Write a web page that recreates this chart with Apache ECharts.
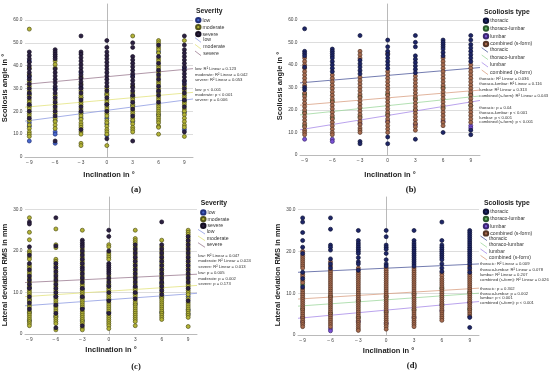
<!DOCTYPE html>
<html><head><meta charset="utf-8">
<script src="https://cdn.jsdelivr.net/npm/echarts@6/dist/echarts.min.js"></script>
<style>html,body{margin:0;padding:0;background:#fff}#c{width:550px;height:374px}</style>
</head><body><div id="c"></div>
<script>
// ---------------- data ----------------
const inclinations = [-9, -6, -3, 0, 3, 6, 9];
const xTickLabels = [-9, -6, -3, 0, 3, 6, 9];
const fitX = [-9.5, 10];

// (a) scoliosis angle by severity — values per inclination column
const angleLow = [
  [42, 35, 27.5, 22.5, 15, 13.5, 7],
  [30, 16, 11, 10, 6],
  [37, 30.5, 26, 19.5, 17],
  [27.5, 23, 17, 14.5, 9.5],
  [35.5, 26.5, 22.5, 15.5],
  [46, 28.5, 18.5],
  [39, 33, 24.5, 19.5, 12]
];
const angleModerate = [
  [56, 39, 36, 33, 31, 29, 27, 25, 24, 22, 21, 19, 18, 16, 14, 12.5, 11, 10, 9],
  [42, 40.5, 39, 27, 25, 23, 21, 19, 17, 15.5, 14, 12.5],
  [35, 32, 29, 27, 26, 24, 23, 21, 19, 18, 16.5, 15, 14, 13, 11, 10, 6, 5],
  [30, 28, 27, 25, 24, 22, 21, 19, 18, 16, 15, 13.5, 12, 11, 10, 5],
  [53, 31, 28, 26, 25, 23, 22, 20, 19, 17, 16, 14.5, 13, 12, 11],
  [51, 50, 48, 47, 45.5, 43, 42, 40, 39, 37, 35, 33, 32, 30, 28, 26, 25, 23, 22, 21, 20, 19, 18, 17, 16, 15, 13.5, 13, 10],
  [51, 31, 29, 27, 26, 24, 23, 21, 20, 18.5, 17, 15.5, 14, 13, 9]
];
const angleSevere = [
  [46, 44.5, 43, 41.5, 40, 38.5, 37, 35.5, 34, 32, 30, 28, 26, 23, 20, 17],
  [47, 46, 45, 44, 43, 38.5, 37, 35.5, 34, 32.5, 31, 29.5, 28, 26, 24, 22, 20, 18, 7],
  [53, 46, 45, 43.5, 42, 40.5, 39, 37.5, 36, 34.5, 33, 31.5, 30, 28, 25, 22, 20, 12],
  [51, 48, 46, 44.5, 43, 41.5, 40, 38.5, 37, 35.5, 34, 32.5, 31, 29, 26, 23, 20, 8],
  [50, 48, 44, 42.5, 41, 39.5, 38, 36.5, 35, 33.5, 32, 30.5, 29, 27, 24, 21, 18, 7],
  [49, 44, 41, 38, 36, 34, 31, 29, 27, 24],
  [53, 49, 47, 45.5, 44, 42.5, 41, 39.5, 38, 36.5, 35, 33.5, 32, 30, 28, 25, 22, 11]
];

// (b) scoliosis angle by scoliosis type
const angleThoracic = [
  [56, 46, 45, 44, 39, 30, 29],
  [47, 46, 45, 44, 43, 41.5, 40, 38.5, 37],
  [53, 42, 40.5, 39, 37.5, 36, 6, 5],
  [51, 48, 46, 44.5, 43, 41.5, 40, 38.5, 8, 5],
  [53, 50, 48, 44, 42.5, 41, 39.5, 38, 36.5, 7],
  [51, 50, 49, 48, 47, 45.5, 44, 10],
  [53, 51, 49, 47.5, 46, 44.5, 43, 41.5, 11, 9]
];
const angleThoracoLumbar = [[27, 19, 13], [24, 16.5], [26, 17], [27, 18], [25, 20], [30, 21], [27, 22]];
const angleLumbar = [[7], [7, 6], [14], [15], [13.5], [15], [13, 12]];
const angleCombined = [
  [43, 41.5, 40, 38.5, 37, 35.5, 34, 32.5, 31, 27.5, 26, 24.5, 23, 21.5, 20, 18.5, 17, 15.5, 14, 12.5, 11, 10, 9],
  [35.5, 34, 32.5, 31, 29.5, 28, 26.5, 25, 23.5, 22, 20.5, 19, 17.5, 16, 14.5, 13, 11.5, 10, 9],
  [46, 44.5, 43, 34.5, 33, 31.5, 30, 28.5, 27, 25.5, 24, 22.5, 21, 19.5, 18, 16.5, 15, 13.5, 12, 11, 10],
  [45, 37, 35.5, 34, 32.5, 31, 29.5, 28, 26.5, 25, 23.5, 22, 20.5, 19, 17.5, 16, 14.5, 13, 11.5, 10],
  [35, 33.5, 32, 30.5, 29, 27.5, 26, 24.5, 23, 21.5, 20, 18.5, 17, 15.5, 14, 12.5, 11],
  [43, 41.5, 40, 38.5, 37, 35.5, 34, 32.5, 31, 29.5, 28, 26.5, 25, 23.5, 22, 20.5, 19, 17.5, 16, 14.5, 13],
  [40, 38.5, 37, 35.5, 34, 32.5, 31, 29.5, 28, 26.5, 25, 23.5, 22, 20.5, 19, 17.5, 16, 14.5]
];

// (c) lateral deviation RMS by severity
const latLow = [
  [11.2, 8.2, 5.2, 3.2], [9, 6.8, 4.2], [10.8, 8.8, 6.2, 3.2], [11.8, 8.2, 5.2],
  [11.2, 9.8, 7.2], [12.2, 8.8, 5.2], [9, 5.8, 4.8]
];
const latModerate = [
  [28, 24.5, 22.7, 20, 19.5, 18.5, 18, 16.5, 16, 15, 14.5, 13.5, 12.5, 11.5, 10.5, 10, 9.5, 8.5, 8, 7, 6.5, 5.5, 5, 4.5, 4, 3.5, 3, 2.5, 2],
  [25.3, 21.5, 20.8, 18, 17.5, 16.5, 15.5, 14.5, 13.5, 12.5, 11.5, 10.5, 9.5, 8.5, 8, 7.5, 6.5, 6, 5.5, 4.5, 4, 3.5, 3, 2.5, 1],
  [25, 20.5, 19.5, 18.5, 17.5, 16.5, 15, 14, 13, 12, 11.5, 10.5, 10, 9.5, 8.5, 8, 7.5, 7, 6.5, 5.5, 5, 4.5, 4, 3.5, 3, 2.5, 1.5, 1],
  [21.5, 21, 19.5, 19, 18.5, 18, 14, 13, 12, 11, 10.5, 9.5, 9, 8.5, 7.5, 7, 6.5, 6, 5.5, 4.5, 4, 3.5, 3, 2.5, 2, 1.3],
  [25, 23, 22.5, 22, 21, 20, 19, 18, 17, 16, 15, 14, 13, 12, 11, 10.5, 9.5, 9, 8, 7.5, 7, 6.5, 6, 5.5, 5, 4.5, 4, 3.5, 3, 2],
  [22.6, 21, 20, 19, 18, 17, 16, 15, 14, 13, 12, 11, 10, 9, 8.5, 8, 7.5, 7, 6.5, 6, 5.5, 5, 4.5, 4, 3.5],
  [25, 24.5, 24, 23, 22, 21, 20, 19, 18, 17, 16, 15, 14, 13, 12, 11.5, 10.5, 10, 9.5, 8.5, 7.5, 7, 6.5, 6, 5.5, 5, 4.5, 4, 1.8]
];
const latSevere = [
  [27, 26.5, 21, 19, 17, 15.5, 14, 13, 12, 11, 9, 7.5, 6],
  [28, 21.2, 17, 16, 15, 14, 13, 12, 11, 10, 9, 7, 5, 1.5],
  [22.6, 22, 21.5, 21, 20, 19, 18, 17, 16, 15.5, 14.5, 13.5, 12.5, 11, 9, 6, 2],
  [25, 23.5, 20, 17, 16.5, 16, 15.5, 15, 14.5, 13.5, 12.5, 11.5, 10, 8, 5],
  [21.5, 20.5, 19.5, 18.5, 17.5, 16.5, 15.5, 14.5, 13.5, 12.5, 11.5, 10, 8.5],
  [27, 21.5, 20.5, 19.5, 18.5, 17.5, 16.5, 15.5, 14.5, 13.5, 12.5, 11.5, 10.5, 9.5],
  [23.5, 22.5, 21.5, 20.5, 19.5, 18.5, 17.5, 16.5, 15.5, 14.5, 13.5, 12.5, 11, 8]
];

// (d) lateral deviation RMS by scoliosis type
const latThoracic = [
  [28, 27, 24.5, 22.6, 21, 19.5, 15, 13.5, 11.5],
  [28, 25.3, 21.5, 21, 20.3, 18.2, 17, 16],
  [25, 22.6, 22, 21.5, 21, 20.5, 20, 19.5, 18.5, 17.5, 17, 15.5],
  [25, 23.5, 21.5, 21, 20.5, 19.5, 18, 17, 16.5],
  [25, 22.6, 22, 21.5, 21, 20.5, 20, 19.5, 19, 18.5, 18, 17.5, 17, 16.5],
  [27, 22.6, 21.5, 21, 20.5, 20, 19.5, 19, 18.5, 18, 17, 16, 15.2],
  [25, 24.5, 24, 23.5, 23, 22.5, 22, 21.5, 21, 20.5, 20, 19.5, 19, 18.5, 18, 17.5, 17, 16, 15, 4.2, 1.8]
];
const latThoracoLumbar = [[12, 6.2], [9.2, 5.2], [8.2, 4.2], [9.2, 5.5], [9.8, 6], [11.2, 7.2], [10.2, 6.2]];
const latLumbar = [[4.2, 3.1], [1.5, 1], [3.2], [2.8], [4.2], [5.8], [7.8]];
const latCombined = [
  [20, 19, 18.5, 18, 17.5, 17, 16.5, 16, 14.5, 14, 13, 12.5, 11, 10.5, 10, 9.5, 9, 8.5, 8, 7.5, 7, 6.5, 6, 5.5, 5, 4.5, 4, 3.5, 3, 2.5, 2],
  [17.5, 16.5, 15.5, 15, 14.5, 14, 13.5, 13, 12.5, 12, 11.5, 11, 10.5, 10, 9.5, 9, 8.5, 8, 7.5, 7, 6.5, 6, 5.5, 5, 4.5, 4, 3.5, 3, 2.5, 2],
  [16, 15, 14.5, 14, 13.5, 13, 12.5, 12, 11.5, 11, 10.5, 10, 9.5, 9, 8.5, 8, 7.5, 7, 6.5, 6, 5.5, 5, 4.5, 4, 3.5, 3, 2.5, 2, 1.5, 1.1],
  [16, 15.5, 15, 14.5, 14, 13.5, 13, 12.5, 12, 11.5, 11, 10.5, 10, 9.5, 9, 8.5, 8, 7.5, 7, 6.5, 6, 5.5, 5, 4.5, 4, 3.5, 3, 2.5, 2, 1.4],
  [16, 15.5, 15, 14.5, 14, 13.5, 13, 12.5, 12, 11.5, 11, 10.5, 10, 9.5, 9, 8.5, 8, 7.5, 7, 6.5, 6, 5.5, 5, 4.5, 4, 3.5, 3, 2.5, 2],
  [14.8, 14.2, 13.5, 13, 12.5, 12, 11.5, 11, 10.5, 10, 9.5, 9, 8.5, 8, 7.5, 7, 6.5, 6, 5.5, 5, 4.5, 4, 3.5],
  [16.5, 15.5, 14.5, 14, 13.5, 13, 12.5, 12, 11.5, 11, 10.5, 10, 9.5, 9, 8.5, 8, 7.5, 7, 6.5, 6, 5.5, 5, 4.5]
];

// regression line values at the left and right end of the x axis
const fitAngleSeverity = [[15.7, 25.4], [21.8, 28.3], [31.8, 38.7]];          // low, moderate, severe
const fitAngleType = [[32.0, 38.8], [17.8, 26.2], [11.2, 24.2], [22.1, 28.8]]; // thoracic, thoraco-lumbar, lumbar, combined
const fitLatSeverity = [[6.8, 9.8], [9.0, 11.7], [12.4, 14.4]];
const fitLatType = [[15.0, 17.0], [6.9, 10.0], [4.0, 8.0], [8.6, 11.2]];

const severityNames = ['low', 'moderate', 'severe'];
const typeNames = ['thoracic', 'thoraco-lumbar', 'lumbar', 'combined (s-form)'];
const statsA = ['low: R\u00b2 Linear = 0.123', 'moderate: R\u00b2 Linear = 0.042', 'severe: R\u00b2 Linear = 0.053',
  'low: p < 0.001', 'moderate: p < 0.001', 'severe: p = 0.006'];
const statsB = ['thoracic: R\u00b2 Linear = 0.036', 'thoraco-lumbar: R\u00b2 Linear = 0.116', 'lumbar: R\u00b2 Linear = 0.313', 'combined (s-form): R\u00b2 Linear = 0.043',
  'thoracic: p = 0.04', 'thoraco-lumbar: p < 0.001', 'lumbar: p < 0.001', 'combined (s-form): p < 0.001'];
const statsC = ['low: R\u00b2 Linear = 0.047', 'moderate: R\u00b2 Linear = 0.024', 'severe: R\u00b2 Linear = 0.013',
  'low: p = 0.005', 'moderate: p = 0.002', 'severe: p = 0.173'];
const statsD = ['thoracic: R\u00b2 Linear = 0.009', 'thoraco-lumbar: R\u00b2 Linear = 0.078', 'lumbar: R\u00b2 Linear = 0.207', 'combined (s-form): R\u00b2 Linear = 0.026',
  'thoracic: p = 0.302', 'thoraco-lumbar: p = 0.002', 'lumbar: p < 0.001', 'combined (s-form): p < 0.001'];

// ---------------- styling ----------------
const FONT = '"Liberation Sans", Arial, sans-serif';
const sevFill = { low: ['#4767cc', '#22307a'], moderate: ['#b3b336', '#55551a'], severe: ['#2c2142', '#150f22'] };
const sevLine = { low: '#8e9ce2', moderate: '#e3e37f', severe: '#9c7c92' };
const typeFill = { 'thoracic': ['#1e2668', '#0e1236'], 'thoraco-lumbar': ['#62b562', '#2e5a2e'], 'lumbar': ['#7a50d6', '#3c2870'], 'combined (s-form)': ['#a66a4e', '#553526'] };
const typeLine = { 'thoracic': '#4f5b9c', 'thoraco-lumbar': '#9fd89f', 'lumbar': '#a88ce8', 'combined (s-form)': '#d9a184' };

function pts(cols) {
  const out = [];
  cols.forEach((vals, i) => vals.forEach(v => out.push([inclinations[i], v])));
  return out;
}
function scatter(name, cols, idx, fill) {
  return { name, type: 'scatter', xAxisIndex: idx, yAxisIndex: idx, data: pts(cols), symbolSize: 4, z: 3,
    itemStyle: { color: fill[0], borderColor: fill[1], borderWidth: 0.7, opacity: 1 }, silent: true };
}
function fit(name, ends, idx, color) {
  return { name: name + ' fit', type: 'line', xAxisIndex: idx, yAxisIndex: idx, symbol: 'none', z: 2, silent: true,
    data: [[fitX[0], ends[0]], [fitX[1], ends[1]]], lineStyle: { color, width: 0.8 } };
}

const grids = [
  { left: 25, top: 4, width: 168, height: 153 },
  { left: 300, top: 4, width: 180, height: 151 },
  { left: 25, top: 197, width: 172, height: 137 },
  { left: 298, top: 197, width: 181, height: 138 }
];
const yMax = [67, 67, 33, 33];
const yTop = [60, 60, 30, 30];
const yNames = ['Scoliosis angle in \u00b0', 'Scoliosis angle in \u00b0', 'Lateral deviation RMS in mm', 'Lateral deviation RMS in mm'];
const yNameGap = [13.5, 14.5, 12, 14.3];
const yNameShift = [15, 13, 19, 18];
const xNameGap = [13.5, 15.5, 11.5, 11.5];

const xAxes = grids.map((g, i) => ({
  gridIndex: i, type: 'value', min: fitX[0], max: fitX[1], interval: 0.5,
  axisLine: { show: true, onZero: false, lineStyle: { color: '#a8a8a8', width: 0.8 } },
  axisTick: { show: false }, splitLine: { show: false },
  axisLabel: { interval: 0, margin: 3.5, fontSize: 4.8, color: '#444', fontFamily: FONT,
    formatter: v => { const r = Math.round(v); if (Math.abs(v - r) > 1e-6 || xTickLabels.indexOf(r) < 0) return ''; return r < 0 ? '\u2013 ' + (-r) : String(r); } },
  name: 'Inclination in \u00b0', nameLocation: 'middle', nameGap: xNameGap[i],
  nameTextStyle: { fontSize: 7.5, fontWeight: 'bold', color: '#222', fontFamily: FONT }
}));
const yAxes = grids.map((g, i) => ({
  gridIndex: i, type: 'value', min: 0, max: yMax[i], interval: 10,
  axisLine: { show: true, lineStyle: { color: '#a8a8a8', width: 0.8 } },
  axisTick: { show: false },
  splitLine: { show: true, showMaxLine: false, showMinLine: false, lineStyle: { color: '#d4d4d4', width: 0.8 } },
  axisLabel: { margin: 2.5, fontSize: 4.8, color: '#444', fontFamily: FONT, showMaxLabel: false,
    formatter: v => v === 0 ? '0' : (v % 10 === 0 && v <= yTop[i] ? v.toFixed(1) : '') },
  name: yNames[i], nameLocation: 'middle', nameGap: yNameGap[i],
  nameTextStyle: { fontSize: 7.5, fontWeight: 'bold', color: '#222', fontFamily: FONT, padding: [0, yNameShift[i], 0, 0] }
}));

const series = [];
// (a)
[angleLow, angleModerate, angleSevere].forEach((c, k) => series.push(scatter(severityNames[k], c, 0, sevFill[severityNames[k]])));
fitAngleSeverity.forEach((e, k) => series.push(fit(severityNames[k], e, 0, sevLine[severityNames[k]])));
// (b)
[[1, angleThoracoLumbar], [2, angleLumbar], [3, angleCombined], [0, angleThoracic]].forEach(([k, c]) =>
  series.push(scatter(typeNames[k], c, 1, typeFill[typeNames[k]])));
fitAngleType.forEach((e, k) => series.push(fit(typeNames[k], e, 1, typeLine[typeNames[k]])));
// (c)
[latLow, latModerate, latSevere].forEach((c, k) => series.push(scatter(severityNames[k], c, 2, sevFill[severityNames[k]])));
fitLatSeverity.forEach((e, k) => series.push(fit(severityNames[k], e, 2, sevLine[severityNames[k]])));
// (d)
[[1, latThoracoLumbar], [2, latLumbar], [3, latCombined], [0, latThoracic]].forEach(([k, c]) =>
  series.push(scatter(typeNames[k], c, 3, typeFill[typeNames[k]])));
fitLatType.forEach((e, k) => series.push(fit(typeNames[k], e, 3, typeLine[typeNames[k]])));

function legend(left, top, gap, names) {
  return { left, top, orient: 'vertical', itemWidth: 4.4, itemHeight: 4.4, itemGap: gap, icon: 'circle',
    selectedMode: false, data: names, padding: 0,
    textStyle: { fontSize: 5.2, color: '#333', fontFamily: FONT, lineHeight: 4.4, padding: [0, 0, 0, -3] } };
}
const legends = [
  legend(195.1, 16.9, 0.6, severityNames),
  legend(482.8, 17.6, 1.33, typeNames),
  legend(200.1, 209.2, 0.3, severityNames),
  legend(482.8, 208.6, 0.8, typeNames)
];

// graphic: legend titles, line keys, stats text, captions
const g = [];
function txt(x, y, text, size, opts) {
  g.push(Object.assign({ type: 'text', x, y, silent: true,
    style: Object.assign({ text, fontSize: size, fontFamily: FONT, fill: '#333', verticalAlign: 'middle', align: 'left' }, opts || {}) }));
}
function lineKeys(x1, x2, xt, ys, names, colors) {
  ys.forEach((y, k) => {
    g.push({ type: 'line', silent: true, shape: { x1, y1: y - 2.3, x2, y2: y + 2.3 }, style: { stroke: colors[names[k]], lineWidth: 0.8 } });
    txt(xt, y, names[k], 5.2);
  });
}
function stats(x, ys, lines) { ys.forEach((y, k) => txt(x, y, lines[k], 4.2)); }

txt(196, 10.7, 'Severity', 6.8, { fontWeight: 'bold', fill: '#222' });
txt(484, 11.7, 'Scoliosis type', 6.8, { fontWeight: 'bold', fill: '#222' });
txt(200.7, 203.3, 'Severity', 6.8, { fontWeight: 'bold', fill: '#222' });
txt(484, 203.3, 'Scoliosis type', 6.8, { fontWeight: 'bold', fill: '#222' });

lineKeys(195, 201, 203.3, [40, 46.7, 53.3], severityNames, sevLine);
lineKeys(481.7, 488, 490, [50, 57.3, 64.7, 72.3], typeNames, typeLine);
lineKeys(198, 205, 206.7, [231.7, 238.3, 245], severityNames, sevLine);
lineKeys(480.5, 487, 489, [238.3, 245, 251.3, 257.7], typeNames, typeLine);

stats(195, [69.3, 74.7, 80, 90, 95, 100], statsA);
stats(479.3, [78.7, 84.3, 90, 96.3, 108.3, 113.3, 117.7, 122.3], statsB);
stats(198.3, [255.7, 261, 266.7, 273.3, 278.7, 284], statsC);
stats(480, [264, 269.7, 274.7, 280, 289, 293.7, 298, 302.7], statsD);

const capFont = { fontFamily: '"Liberation Serif", "Times New Roman", serif', fontWeight: 'bold', fill: '#111', align: 'center' };
txt(136, 190, '(a)', 8.5, capFont);
txt(411, 190, '(b)', 8.5, capFont);
txt(136, 366.5, '(c)', 8.5, capFont);
txt(412, 366, '(d)', 8.5, capFont);

const chart = echarts.init(document.getElementById('c'), null, { renderer: 'canvas' });
chart.setOption({
  animation: false,
  backgroundColor: '#ffffff',
  grid: grids,
  xAxis: xAxes,
  yAxis: yAxes,
  legend: legends,
  series,
  graphic: { elements: g }
});
</script>
</body></html>
